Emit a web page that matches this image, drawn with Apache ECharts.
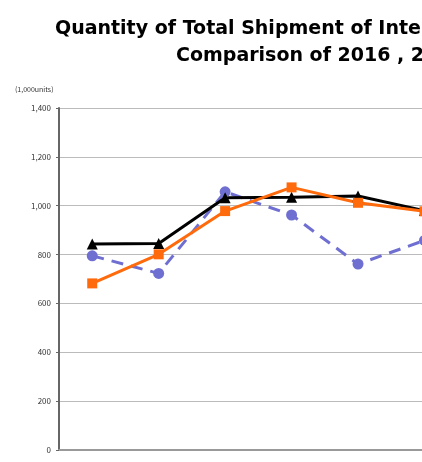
<!DOCTYPE html>
<html>
<head>
<meta charset="utf-8">
<script src="https://cdn.jsdelivr.net/npm/echarts@6/dist/echarts.min.js"></script>
<style>
html,body{margin:0;padding:0;overflow:hidden;background:#fff;width:422px;height:462px;}
#chart{width:900px;height:520px;}
</style>
</head>
<body>
<div id="chart"></div>
<script>
var titleLine1 = "Quantity of Total Shipment of Internet TV Receivers";
var titleLine2 = "Comparison of 2016 , 2017 , 2018";
var unitLabel = "(1,000units)";
var categories = ["Jan","Feb","Mar","Apr","May","Jun","Jul","Aug","Sep","Oct","Nov","Dec"];
var series2016 = [795, 723, 1057, 962, 761, 858];
var series2017 = [682, 801, 978, 1075, 1012, 977];
var series2018 = [843, 845, 1033, 1035, 1040, 980];

var chart = echarts.init(document.getElementById('chart'), null, {renderer:'canvas'});
var fontJP = '"Noto Sans CJK JP","Noto Sans",sans-serif';
var titleFont = '"DejaVu Sans",sans-serif';
chart.setOption({
  animation:false,
  backgroundColor:'#fff',
  title:[
    {text:titleLine1, left:55, top:20, padding:0, textStyle:{fontFamily:titleFont, fontWeight:'bold', fontSize:19, color:'#000'}},
    {text:titleLine2, left:176, top:47, padding:0, textStyle:{fontFamily:titleFont, fontWeight:'bold', fontSize:19, color:'#000'}}
  ],
  graphic:[{type:'text', left:15, top:86, style:{text:unitLabel, font:'7px '+fontJP, fill:'#333'}}],
  grid:{left:59, top:108, right:900-59-66.45*12, bottom:70},
  xAxis:{type:'category', data:categories, boundaryGap:true,
    axisLine:{lineStyle:{color:'#999', width:2}}, axisTick:{show:false},
    axisLabel:{show:true, margin:30, fontSize:9, color:'#333'}},
  yAxis:{type:'value', min:0, max:1400, interval:200,
    axisLine:{show:true, lineStyle:{color:'#666', width:2}},
    axisTick:{show:true, length:3, lineStyle:{color:'#666'}},
    splitLine:{lineStyle:{color:'#bbb', width:1}},
    axisLabel:{fontSize:8, color:'#333', margin:8, fontFamily:fontJP,
      formatter:function(v){return v.toLocaleString('en-US');}}},
  series:[
    {name:'2016', type:'line', data:series2016, symbol:'circle', symbolSize:11,
      lineStyle:{color:'#6f6fd2', width:3, type:[12,8]}, itemStyle:{color:'#6f6fd2'}},
    {name:'2018', type:'line', data:series2018, symbol:'triangle', symbolSize:11,
      lineStyle:{color:'#000', width:3}, itemStyle:{color:'#000'}},
    {name:'2017', type:'line', data:series2017, symbol:'rect', symbolSize:10,
      lineStyle:{color:'#ff6a0d', width:3}, itemStyle:{color:'#ff6a0d'}}
  ]
});
</script>
</body>
</html>
